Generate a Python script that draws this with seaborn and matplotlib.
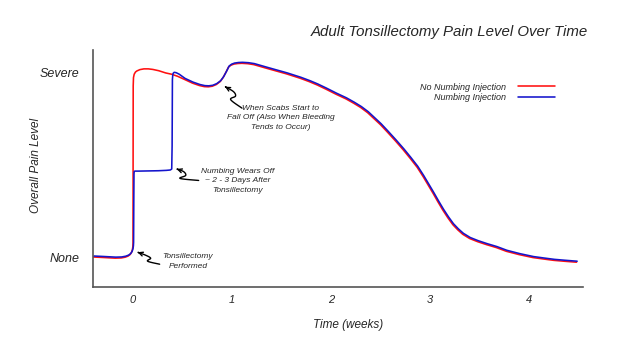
import numpy as np
import pandas as pd
import matplotlib
matplotlib.use("Agg")
import matplotlib.pyplot as plt
import matplotlib.transforms as mtransforms
from matplotlib.path import Path
from matplotlib.patches import FancyArrowPatch
import seaborn as sns

# ---------------- data ----------------
red_x = [-0.40, -0.32, -0.25, -0.18, -0.12, -0.08, -0.05, -0.03, -0.015, -0.006, -0.002,
         0.0, 0.001, 0.002, 0.005, 0.012, 0.025, 0.04, 0.07, 0.11, 0.155, 0.20, 0.26,
         0.33, 0.39, 0.45, 0.52, 0.60, 0.67, 0.72, 0.76, 0.80, 0.84, 0.88, 0.91, 0.94,
         0.965, 0.99, 1.02, 1.06, 1.10, 1.16, 1.22, 1.35, 1.45, 1.55, 1.69, 1.78, 1.86,
         1.95, 2.05, 2.15, 2.23, 2.30, 2.37, 2.43, 2.50, 2.57, 2.65, 2.73, 2.80, 2.87,
         2.93, 2.98, 3.03, 3.08, 3.13, 3.18, 3.23, 3.28, 3.33, 3.40, 3.48, 3.57, 3.67,
         3.77, 3.90, 4.04, 4.15, 4.25, 4.36, 4.48]
red_y = [0.005, 0.003, 0.001, -0.001, 0.0, 0.004, 0.010, 0.018, 0.03, 0.045, 0.06,
         0.08, 0.5, 0.93, 0.975, 0.993, 1.005, 1.011, 1.018, 1.022, 1.022, 1.019, 1.012,
         1.0, 0.993, 0.982, 0.965, 0.945, 0.932, 0.926, 0.925, 0.928, 0.937, 0.953, 0.975, 1.005,
         1.032, 1.042, 1.048, 1.051, 1.052, 1.050, 1.045, 1.025, 1.01, 0.995, 0.971, 0.953, 0.935,
         0.912, 0.885, 0.86, 0.836, 0.813, 0.785, 0.755, 0.72, 0.68, 0.633, 0.584, 0.538, 0.49,
         0.44, 0.395, 0.35, 0.303, 0.258, 0.217, 0.18, 0.152, 0.128, 0.105, 0.088, 0.072, 0.056,
         0.036, 0.018, 0.002, -0.006, -0.013, -0.018, -0.023]

blue_early_x = [-0.40, -0.32, -0.25, -0.18, -0.12, -0.08, -0.05, -0.03, -0.015, -0.006, -0.002,
                0.0, 0.002, 0.004, 0.006, 0.012, 0.05, 0.15, 0.25, 0.33, 0.37, 0.385,
                0.389, 0.392, 0.396, 0.40, 0.41, 0.43, 0.46]
blue_early_y = [0.005, 0.003, 0.001, -0.001, 0.0, 0.004, 0.010, 0.018, 0.03, 0.045, 0.06,
                0.08, 0.30, 0.45, 0.462, 0.464, 0.464, 0.465, 0.466, 0.468, 0.47, 0.475,
                0.60, 0.96, 0.985, 0.993, 0.998, 0.996, 0.988]

join = red_x.index(0.52)
blue_x = blue_early_x + red_x[join:]
blue_y = blue_early_y + red_y[join:]

series_names = ["No Numbing Injection", "Numbing Injection"]
x_ticks = [0, 1, 2, 3, 4]
y_ticks = [0, 1]
y_tick_labels = ["None", "Severe"]

title = "Adult Tonsillectomy Pain Level Over Time"
x_label = "Time (weeks)"
y_label = "Overall Pain Level"

# text, text centre (data), arrow tip (data)
notes = [
    ("Tonsillectomy\nPerformed", (0.556, -0.02), (0.047, 0.031)),
    ("Numbing Wears Off\n~ 2 - 3 Days After\nTonsillectomy", (1.06, 0.416), (0.441, 0.481)),
    ("When Scabs Start to\nFall Off (Also When Bleeding\nTends to Occur)", (1.49, 0.758), (0.929, 0.926)),
]
# squiggle shapes, pixel offsets from the arrow tip (y up)
squiggles = [
    [(0, 0), (8, -3), (13, -6), (10, -9), (22, -12)],
    [(0, 0), (7, -2.7), (9, -6.5), (3.5, -9.5), (22, -11.5)],
    [(0, 0), (8.5, -5), (10.5, -9.5), (5.7, -13), (17, -21.5)],
]

# ---------------- style ----------------
sns.set_theme(style="white")
plt.rcParams['font.family'] = ['Liberation Sans', 'DejaVu Sans']
plt.rcParams['font.style'] = 'italic'

fig = plt.figure(figsize=(6.4, 3.44), dpi=100)
ax = fig.add_axes([93/640, 1-287/344, (583-93)/640, (287-50)/344])

red = "#ff1010"
blue = "#1414cc"

df_red = pd.DataFrame({"t": red_x, "p": red_y})
df_blue = pd.DataFrame({"t": blue_x, "p": blue_y})

sns.lineplot(data=df_red, x="t", y="p", sort=False, estimator=None, color=red,
             linewidth=1.15, label=series_names[0], ax=ax)
sns.lineplot(data=df_blue, x="t", y="p", sort=False, estimator=None, color=blue,
             linewidth=1.15, label=series_names[1], ax=ax)
for ln in ax.lines:
    ln.set_solid_joinstyle('round')
blue_line = ax.lines[-1]
blue_line.set_transform(mtransforms.offset_copy(ax.transData, fig=fig, x=0.6, y=1.0, units='dots'))

ax.set_xlim(-0.404, 4.545)
ax.set_ylim(-0.157, 1.124)
ax.set_xticks(x_ticks)
ax.set_xticklabels([str(t) for t in x_ticks], fontsize=8, style='italic')
ax.set_yticks(y_ticks)
ax.set_yticklabels(y_tick_labels, fontsize=9, style='italic')
ax.tick_params(axis='x', length=0, pad=6)
ax.tick_params(axis='y', length=0, pad=10)

for s in ["top", "right"]:
    ax.spines[s].set_visible(False)
for s in ["left", "bottom"]:
    ax.spines[s].set_color("#555555")
    ax.spines[s].set_linewidth(1.2)

ax.set_xlabel(x_label, fontsize=8.5, style='italic')
ax.xaxis.set_label_coords(0.52, -0.135)
ax.set_ylabel(y_label, fontsize=8.5, style='italic')
ax.yaxis.set_label_coords(-0.105, 0.515)

fig.text(588/640, 1-32/344, title, ha='right', va='center', fontsize=10.8, style='italic')


def catmull(points, n=12):
    p = np.asarray(points, dtype=float)
    p = np.vstack([p[0], p, p[-1]])
    out = []
    for i in range(1, len(p) - 2):
        p0, p1, p2, p3 = p[i-1], p[i], p[i+1], p[i+2]
        for t in np.linspace(0, 1, n, endpoint=False):
            t2, t3 = t*t, t*t*t
            out.append(0.5*((2*p1) + (-p0+p2)*t + (2*p0-5*p1+4*p2-p3)*t2 + (-p0+3*p1-3*p2+p3)*t3))
    out.append(p[-2])
    return np.array(out)


for (text, pos, tip), shape in zip(notes, squiggles):
    ax.text(pos[0], pos[1], text, ha='center', va='center', fontsize=6, style='italic',
            linespacing=1.5)
    trans = mtransforms.Affine2D() + mtransforms.ScaledTranslation(tip[0], tip[1], ax.transData)
    arrow = FancyArrowPatch(path=Path(catmull(shape)), arrowstyle='<-', mutation_scale=7,
                            lw=1.0, color='black', transform=trans)
    ax.add_patch(arrow)

leg = ax.legend(loc='upper right', bbox_to_anchor=(560/640, 1-78/344),
                bbox_transform=fig.transFigure, frameon=False, markerfirst=False,
                fontsize=6.5, handlelength=4.2, handletextpad=1.3, labelspacing=0.15,
                borderpad=0)

fig.savefig("out.png", dpi=100, facecolor="white")
